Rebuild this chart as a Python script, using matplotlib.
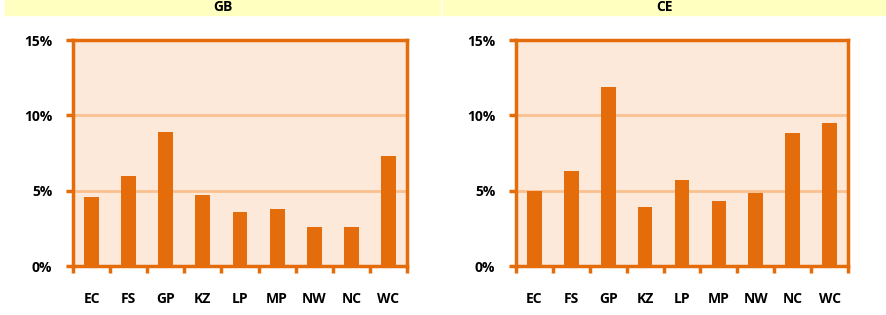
import numpy as np
import matplotlib.pyplot as plt
from matplotlib.patches import Rectangle
from matplotlib.ticker import FixedLocator

regions = ['EC', 'FS', 'GP', 'KZ', 'LP', 'MP', 'NW', 'NC', 'WC']
gb_vals = [4.6, 6.0, 8.9, 4.7, 3.6, 3.8, 2.6, 2.6, 7.3]
ce_vals = [5.0, 6.3, 11.9, 3.9, 5.7, 4.3, 4.85, 8.8, 9.5]
y_ticks = [0, 5, 10, 15]
y_labels = ['0%', '5%', '10%', '15%']

orange = '#E46C0A'
fill = '#FDE9D9'
grid = '#FAC090'
band = '#FFFFC0'

plt.rcParams['font.family'] = ['Open Sans', 'DejaVu Sans']
plt.rcParams['font.weight'] = 'bold'

fig = plt.figure(figsize=(8.86, 3.15), dpi=100)
W, H = 886, 315

def panel(x0, x1, title, band_x0, band_x1, vals):
    # yellow title band
    fig.add_artist(Rectangle((band_x0 / W, 1 - 15 / H), (band_x1 - band_x0) / W, 15 / H,
                             transform=fig.transFigure, color=band, zorder=0))
    fig.text((band_x0 + band_x1) / 2 / W, 1 - 7 / H, title, ha='center', va='center',
             fontsize=10, fontweight='bold')
    ax = fig.add_axes([x0 / W, 1 - 266 / H, (x1 - x0) / W, (266 - 40) / H])
    ax.set_facecolor(fill)
    x = np.arange(len(regions))
    ax.bar(x, vals, width=0.4, color=orange, zorder=3)
    ax.set_xlim(-0.5, len(regions) - 0.5)
    ax.set_ylim(0, 15)
    for v in [5, 10]:
        ax.axhline(v, color=grid, lw=2, zorder=1)
    for s in ax.spines.values():
        s.set_color(orange)
        s.set_linewidth(2.5)
    ax.set_yticks(y_ticks)
    ax.set_yticklabels(y_labels, fontsize=10, fontweight='bold')
    ax.set_xticks(x)
    ax.set_xticklabels(regions, fontsize=10, fontweight='bold')
    ax.xaxis.set_minor_locator(FixedLocator(np.arange(-0.5, len(regions), 1)))
    ax.tick_params(axis='x', which='major', length=0, pad=19)
    ax.tick_params(axis='x', which='minor', length=5, width=2.5, color=orange)
    ax.tick_params(axis='y', length=5, width=2.5, color=orange, pad=10)
    return ax

panel(73, 407, 'GB', 5, 440, gb_vals)
panel(516, 848, 'CE', 443, 886, ce_vals)

fig.savefig('out.png', dpi=100)
